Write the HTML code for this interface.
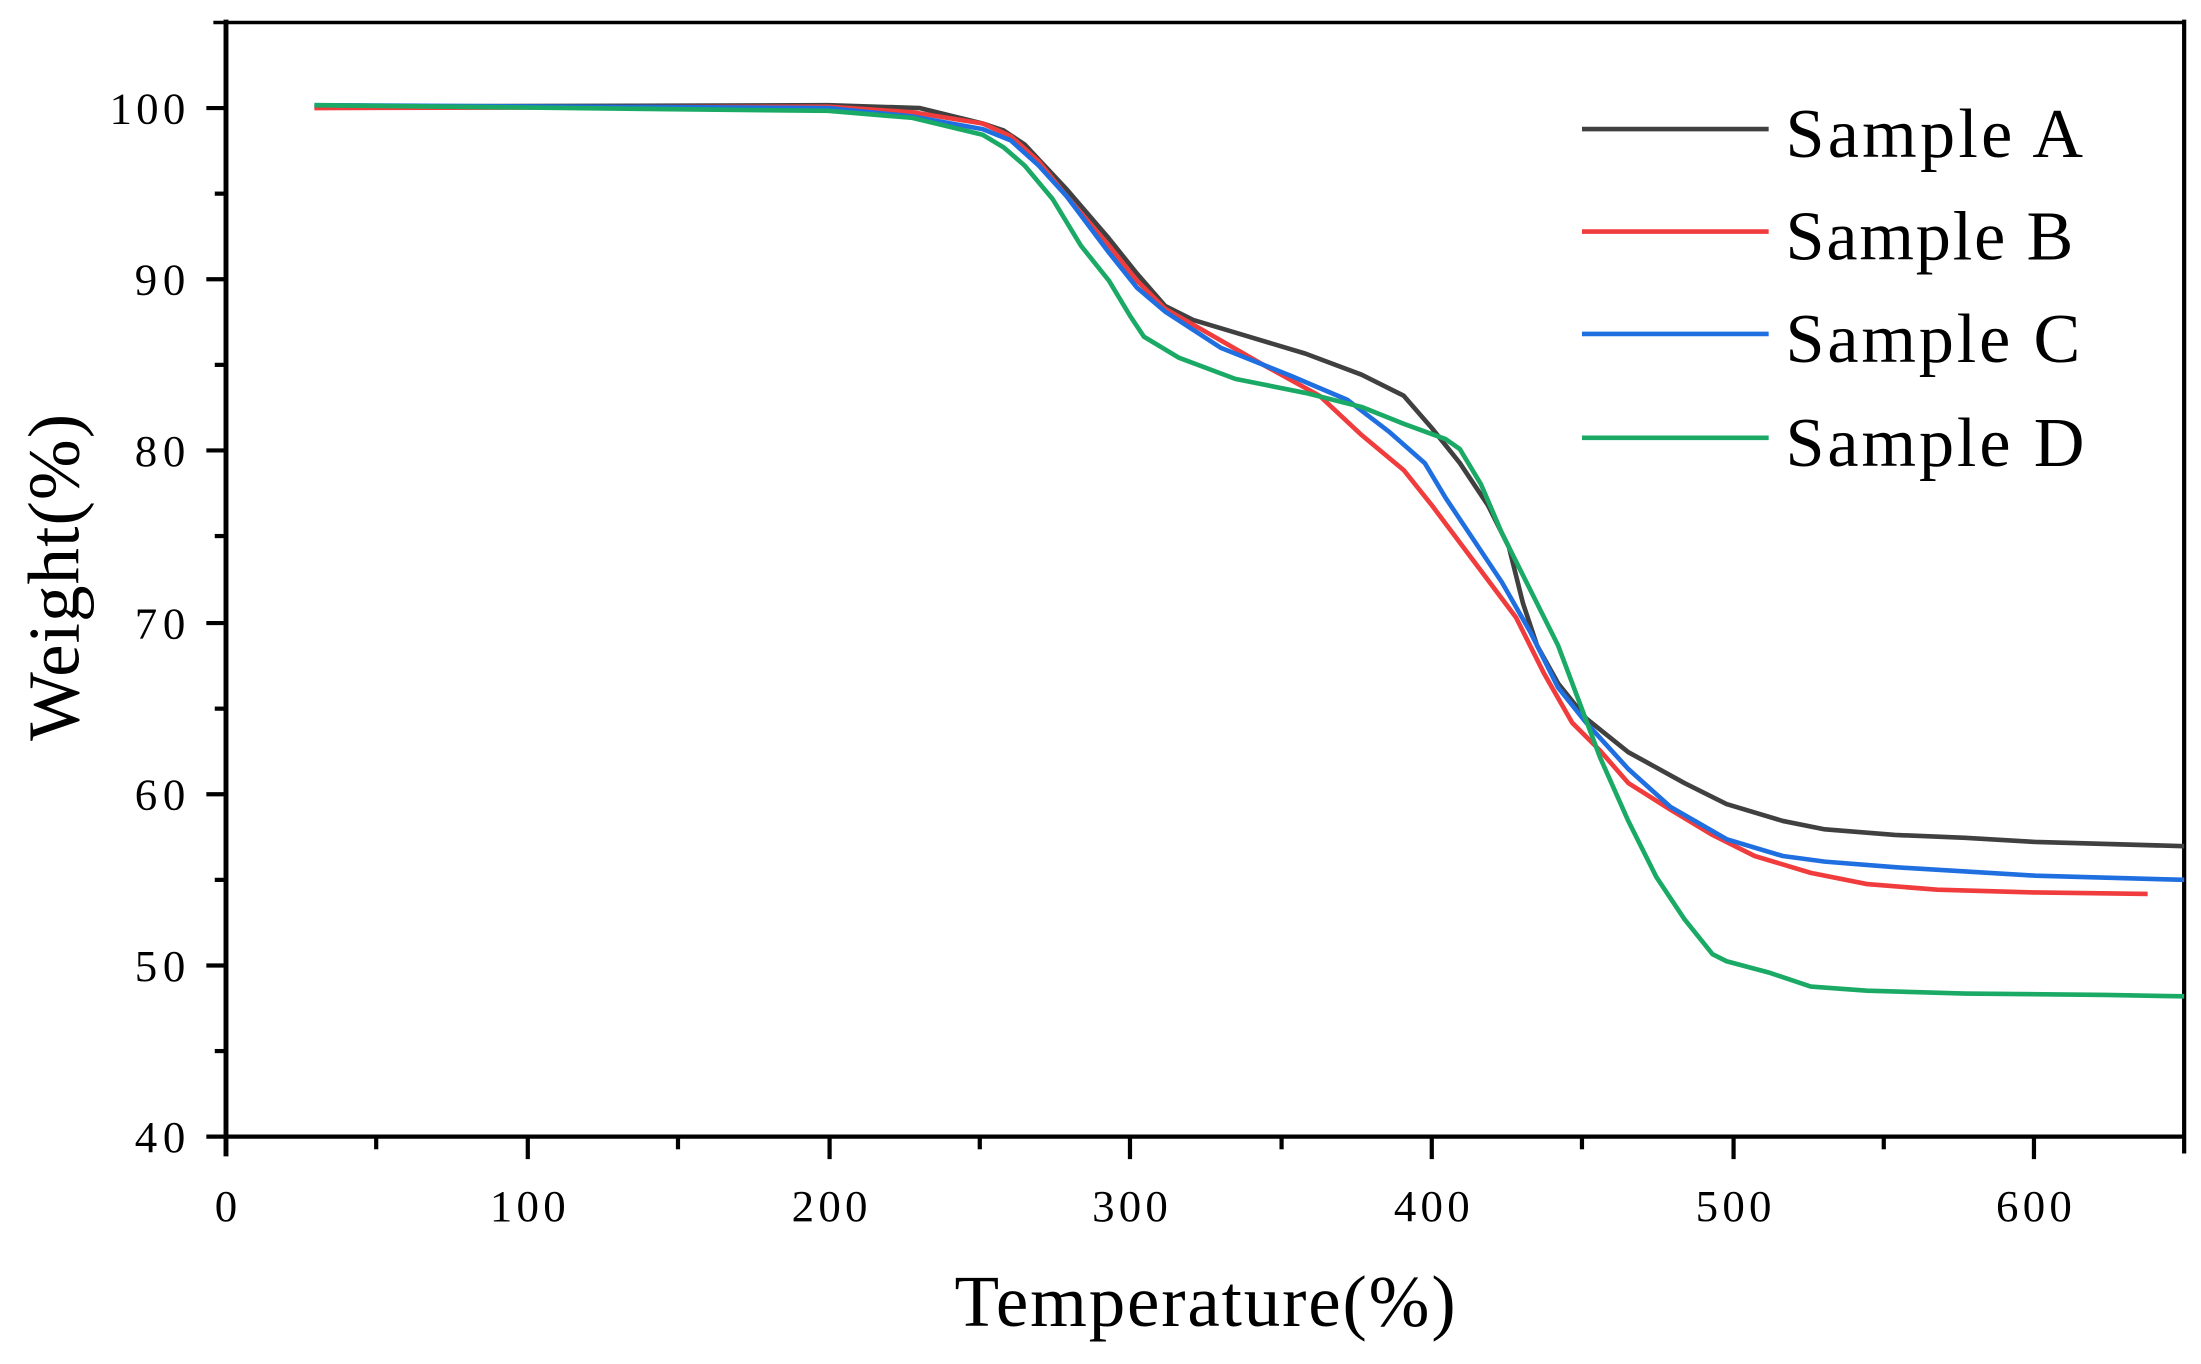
<!DOCTYPE html>
<html><head><meta charset="utf-8"><style>
html,body{margin:0;padding:0;background:#fff;}
svg{display:block;}
text{font-family:"Liberation Serif",serif;fill:#000;}
</style></head><body>
<svg width="2201" height="1364" viewBox="0 0 1568 972" preserveAspectRatio="none" xmlns="http://www.w3.org/2000/svg">
<rect width="1568" height="972" fill="#fff"/>
<g stroke="#000" stroke-width="3" fill="none">
<line x1="152" y1="16" x2="1557" y2="16" stroke-width="2.5"/>
<line x1="161" y1="14" x2="161" y2="824" stroke-width="3.5"/>
<line x1="1556" y1="14" x2="1556" y2="822" stroke-width="3"/>
<line x1="147" y1="810" x2="1557" y2="810"/>
<line x1="147" y1="77" x2="161" y2="77"/><line x1="147" y1="199" x2="161" y2="199"/>
<line x1="147" y1="321" x2="161" y2="321"/><line x1="147" y1="444" x2="161" y2="444"/>
<line x1="147" y1="566" x2="161" y2="566"/><line x1="147" y1="688" x2="161" y2="688"/>
<line x1="153" y1="138" x2="161" y2="138"/><line x1="153" y1="260" x2="161" y2="260"/>
<line x1="153" y1="382" x2="161" y2="382"/><line x1="153" y1="505" x2="161" y2="505"/>
<line x1="153" y1="627" x2="161" y2="627"/><line x1="153" y1="749" x2="161" y2="749"/>
<line x1="376" y1="810" x2="376" y2="826"/><line x1="591" y1="810" x2="591" y2="826"/>
<line x1="805" y1="810" x2="805" y2="826"/><line x1="1020" y1="810" x2="1020" y2="826"/>
<line x1="1235" y1="810" x2="1235" y2="826"/><line x1="1449" y1="810" x2="1449" y2="826"/>
<line x1="268" y1="810" x2="268" y2="819"/><line x1="483" y1="810" x2="483" y2="819"/>
<line x1="698" y1="810" x2="698" y2="819"/><line x1="913" y1="810" x2="913" y2="819"/>
<line x1="1127" y1="810" x2="1127" y2="819"/><line x1="1342" y1="810" x2="1342" y2="819"/>
</g>
<g font-size="32" text-anchor="end">
<text x="132" y="88" textLength="54">100</text><text x="132" y="210" textLength="36">90</text><text x="132" y="332" textLength="36">80</text>
<text x="132" y="455" textLength="36">70</text><text x="132" y="577" textLength="36">60</text><text x="132" y="699" textLength="36">50</text><text x="132" y="821" textLength="36">40</text>
</g>
<g font-size="32" text-anchor="middle">
<text x="161" y="870">0</text><text x="376" y="870" textLength="54">100</text><text x="591" y="870" textLength="54">200</text>
<text x="805" y="870" textLength="54">300</text><text x="1020" y="870" textLength="54">400</text><text x="1235" y="870" textLength="54">500</text><text x="1449" y="870" textLength="54">600</text>
</g>
<text x="680" y="945" font-size="52" textLength="357">Temperature(%)</text>
<text transform="translate(56,528) rotate(-90)" font-size="52" textLength="233">Weight(%)</text>
<g fill="none" stroke-width="3.3" stroke-linejoin="round">
<polyline stroke="#404040" points="224,76 590,75 655,77 700,88 715,93 730,103 760,135 790,170 810,195 830,218 850,228 880,237 930,252 970,267 1000,282 1020,305 1040,330 1060,360 1075,390 1085,430 1095,460 1110,487 1130,512 1160,536 1200,558 1230,573 1270,585 1300,591 1350,595 1400,597 1450,600 1556,603"/>
<polyline stroke="#f03c3c" points="224,77 590,76 650,80 700,88 720,97 740,115 760,140 790,175 810,200 830,220 860,237 900,260 940,282 970,310 1000,335 1020,360 1050,400 1080,440 1100,480 1120,515 1140,535 1160,558 1190,577 1220,595 1250,610 1290,622 1330,630 1380,634 1450,636 1530,637"/>
<polyline stroke="#1f6fe0" points="224,75 590,77 650,83 700,92 720,100 740,118 760,140 790,180 810,205 830,222 870,248 920,268 960,285 990,308 1015,330 1030,355 1050,385 1070,415 1090,450 1110,490 1130,515 1160,548 1190,575 1230,598 1270,610 1300,614 1350,618 1400,621 1450,624 1556,627"/>
<polyline stroke="#1aaa66" points="224,75 590,79 650,84 700,96 715,105 730,118 750,142 770,175 790,200 805,225 815,240 840,255 880,270 930,280 970,290 1000,302 1030,313 1040,320 1055,345 1070,380 1090,420 1110,460 1125,500 1140,540 1160,585 1180,625 1200,655 1220,680 1230,685 1260,693 1290,703 1330,706 1400,708 1500,709 1556,710"/>
<line x1="1127" y1="92" x2="1260" y2="92" stroke="#404040"/>
<line x1="1127" y1="165" x2="1260" y2="165" stroke="#f03c3c"/>
<line x1="1127" y1="238" x2="1260" y2="238" stroke="#1f6fe0"/>
<line x1="1127" y1="312" x2="1260" y2="312" stroke="#1aaa66"/>
</g>
<g font-size="50">
<text x="1272" y="112" textLength="212">Sample A</text>
<text x="1272" y="185" textLength="205">Sample B</text>
<text x="1272" y="258" textLength="210">Sample C</text>
<text x="1272" y="332" textLength="213">Sample D</text>
</g>
</svg>
</body></html>
